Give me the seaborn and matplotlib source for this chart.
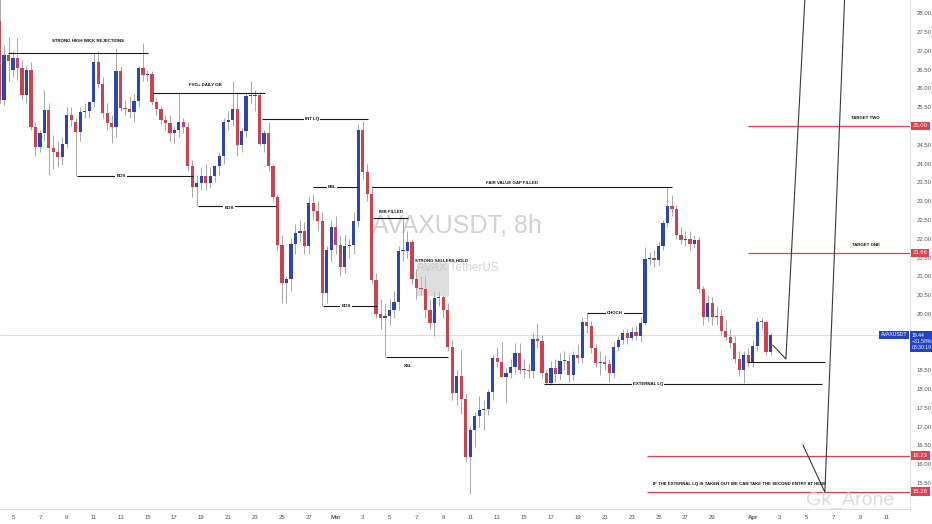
import numpy as np
import pandas as pd
import seaborn as sns
import matplotlib.pyplot as plt
from matplotlib.patches import Rectangle

# AVAXUSDT 8h candles, first bar = 2025-02-04 00:00
opens = [27.80, 25.70, 26.88, 26.50, 26.80, 26.53, 25.82, 26.50, 24.98, 24.45,
         24.80, 25.42, 24.40, 24.30, 24.18, 24.53, 25.30, 25.10, 24.83, 25.37,
         25.40, 25.64, 26.69, 26.11, 25.35, 25.08, 24.98, 26.46, 25.49, 25.45,
         25.36, 25.67, 26.55, 26.35, 26.37, 25.64, 25.44, 25.17, 25.08, 24.80,
         24.90, 25.11, 24.98, 23.93, 23.38, 23.49, 23.68, 23.47, 23.68, 23.93,
         24.20, 25.11, 25.15, 25.44, 24.49, 24.87, 25.79, 25.80, 25.82, 24.51,
         24.80, 23.93, 23.12, 21.83, 20.81, 20.92, 21.87, 22.14, 22.20, 21.81,
         22.96, 22.74, 22.48, 20.56, 21.70, 22.32, 21.83, 21.25, 21.80, 21.83,
         22.48, 24.90, 23.78, 23.19, 20.90, 19.99, 19.88, 19.95, 20.10, 20.32,
         21.67, 21.67, 21.92, 20.94, 20.68, 20.65, 20.10, 19.76, 20.41, 20.44,
         20.10, 19.11, 17.90, 18.35, 17.73, 16.18, 16.91, 17.28, 17.44, 17.48,
         17.91, 18.83, 18.73, 18.31, 18.43, 18.59, 18.95, 18.50, 18.52, 18.48,
         19.32, 19.29, 18.43, 18.17, 18.55, 18.40, 18.75, 18.76, 18.37, 18.90,
         18.84, 19.79, 19.67, 19.08, 18.70, 18.70, 18.68, 18.42, 19.13, 19.30,
         19.48, 19.37, 19.52, 19.41, 19.76, 21.47, 21.48, 21.43, 21.80, 22.42,
         22.87, 22.78, 22.11, 21.97, 22.00, 21.87, 21.96, 20.65, 19.91, 20.30,
         19.91, 19.95, 19.55, 19.39, 19.23, 18.79, 18.51, 18.90, 18.73, 19.14,
         19.79, 19.78, 18.99]
highs = [28.40, 27.15, 27.37, 27.00, 27.33, 26.75, 26.60, 26.70, 25.10, 24.90,
         25.95, 25.60, 24.75, 24.60, 24.70, 25.50, 25.50, 25.20, 25.50, 25.60,
         25.65, 26.95, 26.99, 26.30, 25.60, 25.30, 27.06, 26.60, 25.70, 25.80,
         25.85, 26.60, 27.20, 26.50, 26.45, 25.75, 25.50, 25.30, 25.30, 25.00,
         25.90, 25.20, 25.10, 24.10, 23.70, 23.90, 24.00, 23.90, 23.95, 24.30,
         25.20, 25.40, 26.20, 25.90, 24.95, 25.90, 26.20, 25.95, 25.90, 24.90,
         25.10, 24.00, 23.20, 22.10, 21.00, 22.00, 22.40, 22.50, 22.45, 23.10,
         23.20, 23.00, 22.70, 21.80, 22.50, 22.60, 22.10, 22.10, 22.00, 22.70,
         25.05, 25.14, 24.00, 23.40, 21.10, 20.40, 20.30, 20.40, 20.60, 21.80,
         22.55, 22.20, 22.00, 21.20, 21.00, 21.00, 20.40, 20.60, 20.60, 20.50,
         20.30, 19.30, 18.50, 19.04, 17.90, 17.02, 17.40, 17.81, 17.70, 18.00,
         18.90, 19.13, 19.26, 18.55, 18.80, 19.22, 19.23, 18.81, 18.70, 19.50,
         19.76, 19.40, 18.50, 18.75, 18.80, 18.95, 19.00, 18.90, 19.00, 19.20,
         19.92, 20.02, 19.80, 19.20, 19.00, 18.90, 18.80, 19.25, 19.40, 19.60,
         19.60, 19.65, 19.70, 19.90, 21.78, 21.65, 21.70, 21.90, 22.50, 23.38,
         23.15, 22.90, 22.30, 22.20, 22.20, 22.10, 22.05, 20.75, 20.50, 20.45,
         20.20, 20.10, 19.85, 19.60, 19.40, 19.00, 19.00, 19.10, 19.30, 19.88,
         19.88, 19.85, 19.50]
lows = [25.60, 25.55, 26.20, 26.30, 26.22, 25.68, 25.60, 24.90, 24.20, 24.30,
        24.60, 23.70, 23.85, 23.90, 23.95, 24.40, 25.00, 23.67, 24.60, 25.20,
        25.20, 25.50, 26.00, 25.20, 24.90, 24.55, 24.70, 25.40, 25.30, 25.20,
        25.10, 25.50, 26.20, 26.20, 25.55, 25.30, 25.05, 24.90, 24.60, 24.55,
        24.70, 24.80, 23.80, 23.10, 22.87, 23.30, 23.30, 23.35, 23.50, 23.70,
        24.00, 24.90, 25.00, 24.20, 24.30, 24.70, 25.60, 25.40, 24.50, 24.30,
        23.80, 23.00, 21.70, 20.28, 20.28, 20.60, 21.60, 21.90, 21.60, 21.60,
        22.50, 22.20, 20.21, 20.30, 21.40, 21.60, 21.00, 21.10, 21.50, 21.60,
        22.30, 23.60, 23.00, 20.80, 19.90, 19.60, 18.85, 19.70, 19.90, 20.10,
        21.40, 21.50, 20.80, 20.40, 20.50, 19.90, 19.60, 19.40, 20.20, 19.90,
        19.00, 17.70, 17.58, 17.35, 16.07, 15.20, 16.47, 16.99, 16.91, 17.30,
        17.70, 18.60, 18.50, 17.66, 18.30, 18.40, 18.40, 18.30, 18.30, 18.30,
        19.10, 18.30, 18.13, 18.13, 18.20, 18.25, 18.50, 18.20, 18.25, 18.70,
        18.70, 19.50, 18.95, 18.60, 18.37, 18.50, 18.20, 18.30, 19.00, 19.20,
        19.20, 19.30, 19.30, 19.25, 19.70, 21.30, 21.25, 21.30, 21.70, 22.30,
        22.60, 22.00, 21.85, 21.80, 21.70, 21.75, 20.55, 19.70, 19.80, 19.70,
        19.70, 19.45, 19.30, 19.10, 18.70, 18.35, 18.15, 18.60, 18.60, 19.00,
        19.60, 18.90, 18.90]
closes = [25.70, 26.88, 26.72, 26.80, 26.53, 25.82, 26.50, 24.98, 24.45, 24.80,
          25.42, 24.40, 24.30, 24.18, 24.53, 25.30, 25.15, 24.83, 25.37, 25.40,
          25.64, 26.69, 26.11, 25.35, 25.08, 24.98, 26.46, 25.49, 25.45, 25.36,
          25.67, 26.55, 26.35, 26.37, 25.64, 25.44, 25.17, 25.08, 24.80, 24.90,
          25.11, 24.98, 23.93, 23.38, 23.49, 23.68, 23.47, 23.68, 23.93, 24.20,
          25.11, 25.15, 25.44, 24.49, 24.87, 25.79, 25.80, 25.82, 24.51, 24.80,
          23.93, 23.12, 21.83, 20.81, 20.92, 21.87, 22.14, 22.20, 21.81, 22.96,
          22.74, 22.48, 20.56, 21.70, 22.32, 21.83, 21.25, 21.80, 21.83, 22.48,
          24.90, 23.78, 23.19, 20.90, 19.99, 19.88, 19.95, 20.10, 20.32, 21.67,
          21.67, 21.92, 20.94, 20.68, 20.65, 20.10, 19.76, 20.41, 20.44, 20.10,
          19.11, 17.90, 18.35, 17.73, 16.18, 16.91, 17.28, 17.44, 17.48, 17.91,
          18.83, 18.73, 18.31, 18.43, 18.59, 18.95, 18.50, 18.52, 18.48, 19.32,
          19.29, 18.43, 18.17, 18.55, 18.40, 18.75, 18.76, 18.37, 18.90, 18.84,
          19.79, 19.67, 19.08, 18.70, 18.70, 18.68, 18.42, 19.13, 19.30, 19.48,
          19.37, 19.52, 19.41, 19.76, 21.47, 21.48, 21.43, 21.80, 22.42, 22.87,
          22.78, 22.11, 21.97, 22.00, 21.87, 21.96, 20.65, 19.91, 20.30, 19.91,
          19.95, 19.55, 19.39, 19.23, 18.79, 18.51, 18.90, 18.73, 19.14, 19.79,
          19.78, 18.99, 19.44]

# x axis: days since Feb 4
tick_days = [1, 3, 5, 7, 9, 11, 13, 15, 17, 19, 21, 23, 25, 27, 29, 31, 33, 35,
             37, 39, 41, 43, 45, 47, 49, 51, 53, 56, 58, 60, 62, 64, 66]
tick_labels = ["5", "7", "9", "11", "13", "15", "17", "19", "21", "23", "25", "27",
               "Mar", "3", "5", "7", "9", "11", "13", "15", "17", "19", "21", "23",
               "25", "27", "29", "Apr", "3", "5", "7", "9", "11"]

# price scale labels (those hidden behind the price tags are left out)
price_ticks = [15.5, 16.0, 16.5, 17.0, 17.5, 18.0, 18.5, 20.0, 20.5, 21.0, 21.5,
               22.0, 22.5, 23.0, 23.5, 24.0, 24.5, 25.5, 26.0, 26.5, 27.0, 27.5,
               28.0]

# structure levels drawn by hand on the chart
lvl_text = ["STRONG HIGH WICK REJECTIONS", "FVG+ DAILY OB", "INT LQ", "BOS", "BOS",
            "BSL", "FAIR VALUE GAP FILLED", "IMB FILLED", "BOS", "SSL", "CHOCH",
            "EXTERNAL LQ", ""]
lvl_price = [26.94, 25.87, 25.18, 23.66, 22.87, 23.37, 23.37, 22.55, 20.21, 18.85,
             20.02, 18.13, 18.72]
lvl_start = [0.63, 11.41, 19.51, 5.76, 14.75, 23.30, 27.69, 27.77, 24.05, 28.73,
             43.68, 40.48, 55.57]
lvl_end = [11.04, 19.74, 27.39, 14.38, 20.55, 26.65, 49.99, 30.37, 28.06, 33.34,
           47.76, 61.15, 61.37]
lbl_day = [6.58, 15.27, 23.23, 9.03, 17.06, 24.72, 38.10, 29.10, 25.76, 30.37,
           45.76, 48.21, 0]
lbl_price = [27.26, 26.09, 25.18, 23.66, 22.83, 23.37, 23.47, 22.71, 20.21, 18.61,
             20.02, 18.13, 0]
lbl_inline = [False, False, True, True, True, True, False, False, True, False,
              True, True, False]

# red target levels
tgt_price = [25.00, 21.62, 16.23, 15.27]
tgt_label = ["25.00", "21.66", "16.23", "15.28"]
tgt_start = [55.64, 55.64, 48.14, 48.14]
tgt_text = ["TARGET TWO", "TARGET ONE", "", ""]

# projected path lines
path_a_day = [57.50, 58.47, 59.90]
path_a_price = [19.17, 18.80, 28.50]
path_b_day = [59.74, 61.37, 62.85]
path_b_price = [16.51, 15.26, 28.50]

last_price = 19.44

sns.set_theme(style="white")
plt.rcParams['font.family'] = ['Liberation Sans', 'DejaVu Sans']

df = pd.DataFrame({"open": opens, "high": highs, "low": lows, "close": closes})
df["day"] = np.arange(len(df)) / 3
df["up"] = df["close"] >= df["open"]
df["bottom"] = df[["open", "close"]].min(axis=1)
df["height"] = (df["close"] - df["open"]).abs().clip(lower=0.03)

up_col = "#2c45b4"
dn_col = "#d23f4e"
red_line = "#e0414f"
note_fs = 3.2

fig = plt.figure(figsize=(9.32, 5.24), dpi=100)
ax = fig.add_axes([0, 15 / 524, 910 / 932, 509 / 524])

ax.axhline(last_price, color="#d6d6d6", lw=0.6, zorder=0)

ax.vlines(df["day"], df["low"], df["high"], color="#9a9a9a", lw=0.6, zorder=1)
colors = np.where(df["up"], up_col, dn_col)
ax.bar(df["day"], df["height"], bottom=df["bottom"], width=0.24,
       color=colors, linewidth=0, zorder=2)

# watermark
ax.text(0.502, 0.556, "AVAXUSDT, 8h", transform=ax.transAxes, ha="center",
        va="center", fontsize=18, color="#d2d2d2", zorder=0)
ax.text(0.503, 0.473, "AVAX TetherUS", transform=ax.transAxes, ha="center",
        va="center", fontsize=8.5, color="#d6d6d6", zorder=0)

ax.add_patch(Rectangle((31.04, 20.47), 2.38, 0.88, facecolor="#c8c8c8",
                       alpha=0.6, edgecolor="none", zorder=1))
ax.text(32.9, 21.40, "STRONG SELLERS HOLD", ha="center", va="center",
        fontsize=note_fs, fontweight="bold", color="#111", zorder=4)

for txt, p, x0, x1, lx, lp, inl in zip(lvl_text, lvl_price, lvl_start, lvl_end,
                                       lbl_day, lbl_price, lbl_inline):
    ax.hlines(p, x0, x1, color="#1a1a1a", lw=0.8, zorder=3)
    if txt:
        box = dict(facecolor="white", edgecolor="none", pad=0.6) if inl else None
        ax.text(lx, lp, txt, ha="center", va="center", fontsize=note_fs,
                fontweight="bold", color="#111", bbox=box, zorder=4)

for p, x0, t in zip(tgt_price, tgt_start, tgt_text):
    ax.hlines(p, x0, 67.7, color=red_line, lw=0.9, zorder=3)
    if t:
        ax.text(64.4, p + 0.22, t, ha="center", va="center", fontsize=note_fs,
                fontweight="bold", color="#111", zorder=4)
ax.text(55.05, 15.47, "IF THE EXTERNAL LQ IS TAKEN OUT WE CAN TAKE THE SECOND ENTRY AT HERE",
        ha="center", va="center", fontsize=note_fs, fontweight="bold", color="#111", zorder=4)

ax.plot(path_a_day, path_a_price, color="#3a3a3a", lw=0.8, zorder=3)
ax.plot(path_b_day, path_b_price, color="#3a3a3a", lw=0.8, zorder=3)

ax.set_xlim(0.033, 67.7)
ax.set_ylim(14.81, 28.35)

ax.set_xticks(tick_days)
ax.set_xticklabels(tick_labels)
for lab in ax.get_xticklabels():
    if lab.get_text() in ("Mar", "Apr"):
        lab.set_fontweight("bold")
ax.set_yticks(price_ticks)
ax.set_yticklabels([f"{v:.2f}" for v in price_ticks])
ax.yaxis.tick_right()
ax.tick_params(axis="both", labelsize=4.3, colors="#555555", length=0)
ax.tick_params(axis="y", pad=5)
ax.tick_params(axis="x", pad=4)
for s in ["top", "left"]:
    ax.spines[s].set_visible(False)
for s in ["right", "bottom"]:
    ax.spines[s].set_color("#e0e0e0")
    ax.spines[s].set_linewidth(0.8)
ax.grid(False)

ytr = ax.get_yaxis_transform()
for p, lab in zip(tgt_price, tgt_label):
    ax.text(1.003, p, lab, transform=ytr, ha="left", va="center", fontsize=4.3,
            color="white", clip_on=False, zorder=6,
            bbox=dict(boxstyle="square,pad=0.3", facecolor=red_line, edgecolor="none"))
ax.text(1.002, last_price - 0.17, "19.44\n\u221231.58%\n08:30:19", transform=ytr,
        ha="left", va="center", fontsize=3.7, color="white", clip_on=False,
        zorder=6, linespacing=1.3,
        bbox=dict(boxstyle="square,pad=0.3", facecolor="#2443c4", edgecolor="none"))
ax.text(0.997, last_price, "AVAXUSDT", transform=ytr, ha="right", va="center",
        fontsize=3.7, color="white", zorder=6,
        bbox=dict(boxstyle="square,pad=0.3", facecolor="#2443c4", edgecolor="none"))

fig.text(0.912, 0.045, "Gk_Arone", ha="center", va="center", fontsize=14,
         color="#d4d4d4", alpha=0.8)

fig.savefig("out.png", dpi=100, facecolor="white")
